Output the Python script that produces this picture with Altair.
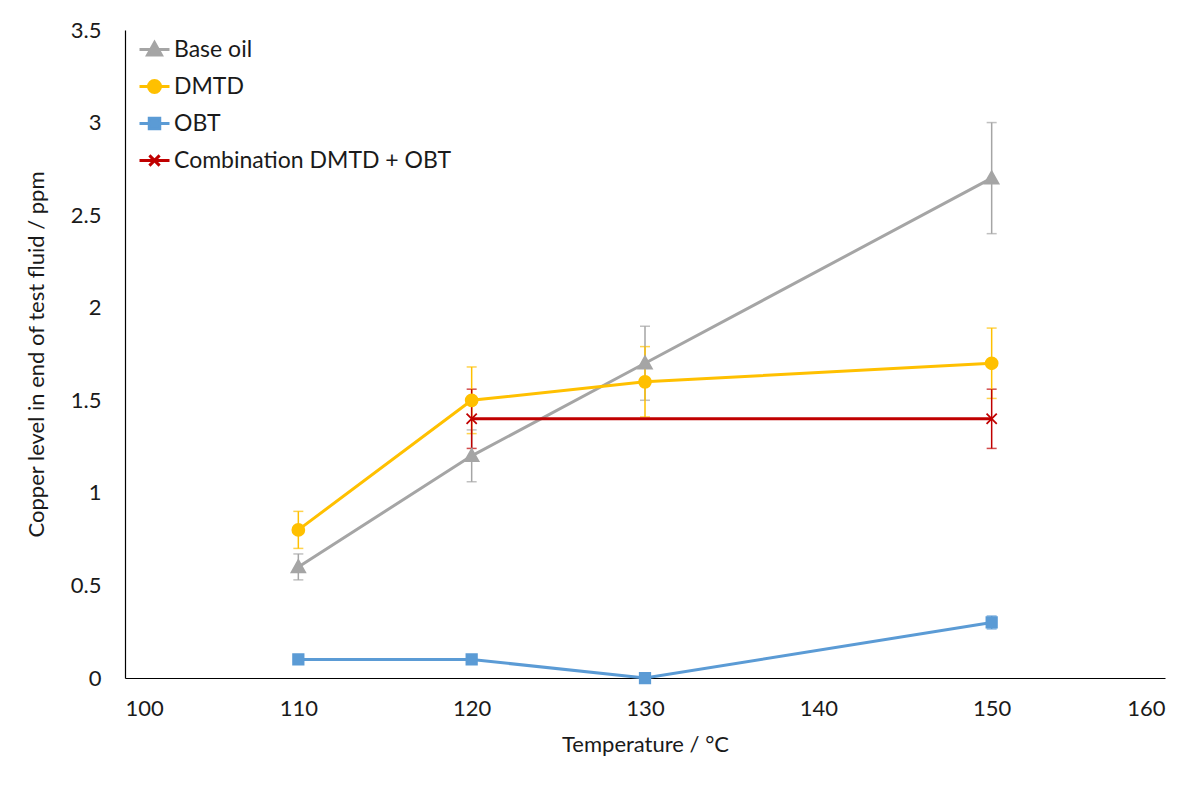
import altair as alt
import pandas as pd

# ---- data ----
temperatures = [110, 120, 130, 150]
series_names = ["Base oil", "DMTD", "OBT", "Combination DMTD + OBT"]
base_oil = [0.6, 1.2, 1.7, 2.7]
base_oil_err = [0.07, 0.14, 0.2, 0.3]
dmtd = [0.8, 1.5, 1.6, 1.7]
dmtd_err = [0.1, 0.18, 0.19, 0.19]
obt = [0.1, 0.1, 0.0, 0.3]
obt_err = [0.01, 0.01, 0.0, 0.035]
combination = [None, 1.4, None, 1.4]
combination_err = [None, 0.16, None, 0.16]
x_ticks = [100, 110, 120, 130, 140, 150, 160]
y_ticks = [0, 0.5, 1, 1.5, 2, 2.5, 3, 3.5]

# ---- styles ----
colors = ["#A5A5A5", "#FFC000", "#5B9BD5", "#C00000"]
marker_paths = [
    "M-0.46,0.36L0,-0.46L0.46,0.36Z",
    "M-0.4,0A0.4,0.4 0 1,0 0.4,0A0.4,0.4 0 1,0 -0.4,0Z",
    "M-0.35,-0.35H0.35V0.35H-0.35Z",
    "M-0.34,-0.34L0.34,0.34M-0.34,0.34L0.34,-0.34",
]
legend_paths = ["M-1,0H1" + p for p in marker_paths]
FONT = "Lato"
TEXT = "#1a1a1a"

values = [base_oil, dmtd, obt, combination]
errors = [base_oil_err, dmtd_err, obt_err, combination_err]
rows = []
for name, vals, errs in zip(series_names, values, errors):
    for t, v, e in zip(temperatures, vals, errs):
        if v is None:
            continue
        rows.append({"series": name, "temp": t, "value": v,
                     "lo": v - e, "hi": v + e})
df = pd.DataFrame(rows)

x_scale = alt.Scale(domain=[100, 160], nice=False, zero=False)
y_scale = alt.Scale(domain=[0, 3.5], nice=False)
x_axis = alt.Axis(values=x_ticks, title="Temperature / °C",
                  ticks=False, grid=False, domainColor="#000000",
                  labelPadding=20, titlePadding=15)
y_axis = alt.Axis(values=y_ticks, format=".1~f",
                  title="Copper level in end of test fluid / ppm",
                  ticks=False, grid=False, domainColor="#000000",
                  labelPadding=24, titlePadding=22)

x_enc = alt.X("temp:Q", scale=x_scale, axis=x_axis)
y_enc = alt.Y("value:Q", scale=y_scale, axis=y_axis)
color_enc = alt.Color("series:N", scale=alt.Scale(domain=series_names, range=colors),
                      legend=None)

base = alt.Chart(df)

leg = alt.Legend(title=None, orient="none", legendX=13, legendY=3,
                 symbolSize=900, symbolStrokeWidth=3, labelFontSize=23,
                 labelFont=FONT, labelColor=TEXT, labelOffset=3, rowPadding=8,
                 padding=0, labelLimit=500, symbolOpacity=1)
legend_layer = base.mark_point(
    filled=True, size=900, strokeWidth=3, opacity=0
).encode(
    x=x_enc, y=y_enc,
    fill=alt.Fill("series:N", scale=alt.Scale(domain=series_names, range=colors), legend=leg),
    stroke=alt.Stroke("series:N", scale=alt.Scale(domain=series_names, range=colors), legend=leg),
    shape=alt.Shape("series:N", scale=alt.Scale(domain=series_names, range=legend_paths), legend=leg),
)

errbars = base.mark_errorbar(ticks={"size": 10, "thickness": 1.5}, thickness=1.5).encode(
    x=x_enc,
    y=alt.Y("lo:Q", scale=y_scale, axis=y_axis),
    y2="hi:Q",
    color=color_enc,
)

lines = base.mark_line(strokeWidth=3).encode(
    x=x_enc, y=y_enc, color=color_enc, detail="series:N"
)

point_layers = []
for name, col, path in zip(series_names, colors, marker_paths):
    point_layers.append(
        base.transform_filter(alt.datum.series == name).mark_point(
            shape=path, size=900, filled=True, fill=col, stroke=col,
            strokeWidth=1.75, opacity=1
        ).encode(x=x_enc, y=y_enc)
    )

chart = alt.layer(legend_layer, errbars, lines, *point_layers).properties(
    width=1040, height=648,
    padding={"left": 125, "top": 30, "right": 38, "bottom": 107},
    autosize=alt.AutoSizeParams(type="none"),
    background="white",
).configure_view(stroke=None).configure_axis(
    labelFont=FONT, titleFont=FONT, labelFontSize=22, titleFontSize=22,
    labelColor=TEXT, titleColor=TEXT, titleFontWeight="normal", domainWidth=1.2
)

chart.save("out.html", embed_options={"renderer": "svg", "actions": False})
